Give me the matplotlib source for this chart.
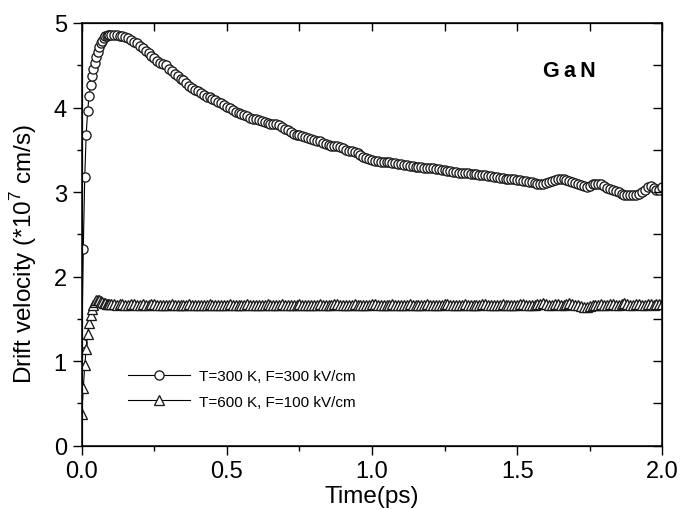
import numpy as np
import matplotlib
matplotlib.use("Agg")
import matplotlib.pyplot as plt
from matplotlib.ticker import MultipleLocator, FormatStrFormatter

plt.rcParams['font.family'] = ['Liberation Sans', 'DejaVu Sans']
plt.rcParams['mathtext.fontset'] = 'custom'
plt.rcParams['mathtext.rm'] = 'Liberation Sans'

# time grid (ps): fine steps at start, then 0.01 ps
time_early = [0.000, 0.005, 0.010, 0.015, 0.020, 0.025, 0.030, 0.035, 0.040, 0.045,
              0.050, 0.055, 0.060, 0.065, 0.070, 0.075, 0.080, 0.085, 0.090, 0.095, 0.100]
time_late = [round(0.11 + 0.01 * i, 2) for i in range(190)]

v300_early = [1.22, 2.33, 3.18, 3.68, 3.96, 4.14, 4.27, 4.37, 4.45, 4.53,
              4.60, 4.66, 4.71, 4.76, 4.79, 4.82, 4.84, 4.85, 4.86, 4.86, 4.86]
v300_late = [
    4.86, 4.86, 4.85, 4.84, 4.83, 4.82, 4.80, 4.78, 4.76, 4.73,
    4.70, 4.67, 4.64, 4.61, 4.58, 4.55, 4.53, 4.52, 4.50, 4.46,
    4.43, 4.40, 4.37, 4.34, 4.32, 4.29, 4.26, 4.23, 4.21, 4.19,
    4.17, 4.15, 4.13, 4.12, 4.10, 4.09, 4.07, 4.05, 4.03, 4.01,
    3.99, 3.97, 3.95, 3.93, 3.92, 3.91, 3.90, 3.88, 3.87, 3.86,
    3.85, 3.84, 3.83, 3.82, 3.81, 3.81, 3.80, 3.79, 3.77, 3.75,
    3.73, 3.71, 3.69, 3.68, 3.67, 3.66, 3.65, 3.64, 3.63, 3.62,
    3.61, 3.60, 3.58, 3.57, 3.56, 3.55, 3.55, 3.54, 3.53, 3.52,
    3.50, 3.49, 3.48, 3.47, 3.46, 3.44, 3.42, 3.40, 3.39, 3.38,
    3.37, 3.37, 3.36, 3.36, 3.35, 3.35, 3.34, 3.34, 3.33, 3.33,
    3.32, 3.32, 3.31, 3.31, 3.30, 3.30, 3.30, 3.29, 3.29, 3.28,
    3.28, 3.27, 3.27, 3.26, 3.26, 3.25, 3.25, 3.24, 3.24, 3.23,
    3.23, 3.22, 3.22, 3.21, 3.21, 3.21, 3.20, 3.20, 3.20, 3.19,
    3.19, 3.18, 3.18, 3.17, 3.17, 3.16, 3.16, 3.15, 3.15, 3.14,
    3.14, 3.13, 3.13, 3.12, 3.12, 3.11, 3.10, 3.10, 3.10, 3.11,
    3.12, 3.13, 3.14, 3.15, 3.15, 3.15, 3.14, 3.13, 3.12, 3.11,
    3.10, 3.08, 3.07, 3.06, 3.07, 3.09, 3.10, 3.10, 3.09, 3.07,
    3.05, 3.04, 3.03, 3.01, 3.00, 2.98, 2.97, 2.96, 2.96, 2.96,
    2.97, 2.98, 3.00, 3.03, 3.06, 3.07, 3.05, 3.03, 3.03, 3.06]

v600_early = [0.38, 0.68, 0.95, 1.15, 1.32, 1.45, 1.55, 1.62, 1.67, 1.70,
              1.72, 1.72, 1.72, 1.71, 1.70, 1.69, 1.69, 1.68, 1.68, 1.68, 1.68]
v600_late = [
    1.68, 1.67, 1.68, 1.68, 1.67, 1.67, 1.68, 1.68, 1.67, 1.67,
    1.68, 1.67, 1.67, 1.68, 1.68, 1.67, 1.67, 1.66, 1.67, 1.67,
    1.68, 1.67, 1.67, 1.66, 1.67, 1.67, 1.68, 1.67, 1.67, 1.66,
    1.66, 1.67, 1.67, 1.68, 1.67, 1.67, 1.66, 1.67, 1.67, 1.67,
    1.68, 1.67, 1.66, 1.66, 1.67, 1.67, 1.68, 1.67, 1.67, 1.66,
    1.67, 1.67, 1.67, 1.68, 1.67, 1.66, 1.66, 1.67, 1.68, 1.67,
    1.67, 1.66, 1.67, 1.67, 1.68, 1.67, 1.67, 1.66, 1.67, 1.67,
    1.67, 1.68, 1.67, 1.67, 1.66, 1.67, 1.68, 1.68, 1.67, 1.67,
    1.66, 1.67, 1.67, 1.68, 1.67, 1.67, 1.67, 1.66, 1.67, 1.68,
    1.68, 1.67, 1.67, 1.66, 1.67, 1.67, 1.68, 1.67, 1.67, 1.67,
    1.66, 1.67, 1.68, 1.67, 1.67, 1.66, 1.67, 1.67, 1.68, 1.67,
    1.67, 1.67, 1.66, 1.67, 1.68, 1.68, 1.67, 1.67, 1.66, 1.67,
    1.67, 1.68, 1.67, 1.67, 1.66, 1.67, 1.67, 1.68, 1.68, 1.67,
    1.67, 1.66, 1.67, 1.67, 1.68, 1.67, 1.67, 1.66, 1.67, 1.67,
    1.68, 1.68, 1.67, 1.67, 1.66, 1.67, 1.68, 1.68, 1.69, 1.68,
    1.67, 1.67, 1.68, 1.68, 1.67, 1.67, 1.68, 1.69, 1.68, 1.67,
    1.66, 1.65, 1.64, 1.64, 1.65, 1.66, 1.67, 1.67, 1.68, 1.67,
    1.67, 1.68, 1.68, 1.67, 1.67, 1.68, 1.69, 1.68, 1.67, 1.67,
    1.68, 1.68, 1.67, 1.67, 1.68, 1.68, 1.67, 1.68, 1.68, 1.68]

label_300 = "T=300 K, F=300 kV/cm"
label_600 = "T=600 K, F=100 kV/cm"

time = np.array(time_early + time_late)
v300 = np.array(v300_early + v300_late)
v600 = np.array(v600_early + v600_late)

fig = plt.figure(figsize=(6.82, 5.10), dpi=100)
ax = fig.add_axes([0.12, 0.124, 0.851, 0.829])

ax.plot(time, v300, color='black', lw=0.8, marker='o', ms=6.6,
        mfc='white', mec='#1a1a1a', mew=0.95, label=label_300)
ax.plot(time, v600, color='black', lw=0.8, marker='^', ms=7.0,
        mfc='white', mec='#1a1a1a', mew=0.95, label=label_600)

ax.set_xlim(0, 2.0)
ax.set_ylim(0, 5)
ax.xaxis.set_major_locator(MultipleLocator(0.5))
ax.xaxis.set_minor_locator(MultipleLocator(0.25))
ax.yaxis.set_major_locator(MultipleLocator(1))
ax.yaxis.set_minor_locator(MultipleLocator(0.5))
ax.xaxis.set_major_formatter(FormatStrFormatter('%.1f'))
ax.tick_params(which='major', direction='out', length=6.8, width=1.0, labelsize=17)
ax.tick_params(axis='y', which='major', pad=4)
ax.tick_params(which='minor', direction='out', length=3.6, width=1.0)
for s in ax.spines.values():
    s.set_linewidth(1.1)

# top/right inward ticks
axr = ax.twinx()
axr.set_ylim(0, 5)
axr.yaxis.set_major_locator(MultipleLocator(0.5))
axr.tick_params(axis='y', direction='in', length=6.5, width=1.0, labelright=False)
axt = ax.twiny()
axt.set_xlim(0, 2.0)
axt.xaxis.set_major_locator(MultipleLocator(0.25))
axt.tick_params(axis='x', direction='in', length=6, width=1.0, labeltop=False)

ax.set_xlabel("Time(ps)", fontsize=17.5, labelpad=2)
ax.set_ylabel(r"Drift velocity (*10$^{7}$ cm/s)", fontsize=17.5)
ax.yaxis.set_label_coords(-0.074, 0.457)

ax.text(0.84, 0.887, "G\u2009a\u2009N", transform=ax.transAxes, fontsize=15.5,
        fontweight='bold', ha='center', va='center')

leg = ax.legend(loc='lower left', bbox_to_anchor=(0.055, 0.055), frameon=False,
                fontsize=11, handlelength=4.1, handletextpad=0.55, labelspacing=0.75)

fig.savefig("out.png", dpi=100)
